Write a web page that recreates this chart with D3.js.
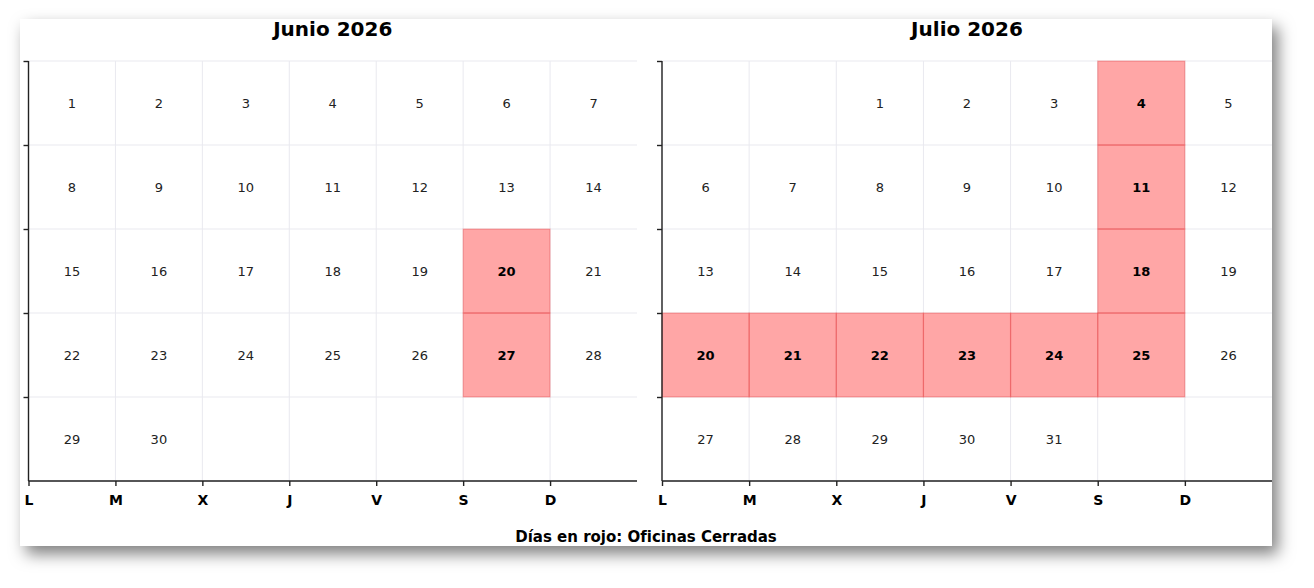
<html lang="es"><head>
<meta charset="utf-8">
<script src="https://d3js.org/d3.v7.min.js"></script>
<style>
  body { margin: 0; background: #fff; font-family: "DejaVu Sans", sans-serif; }
  .grid line { stroke: #e9e9ef; stroke-width: 1; }
  .day { font-size: 13px; fill: #222; }
  .day.closed { font-weight: bold; fill: #000; }
  .axis path, .axis line { stroke: #222; stroke-width: 1.4; }
  .axis text { font: bold 14px "DejaVu Sans", sans-serif; fill: #000; }
</style>
</head><body>
<div id="chart"></div>
<script>
// months shown, days closed in each, weekday labels
var months = [
    { title: "Junio 2026", year: 2026, month: 5 },
    { title: "Julio 2026", year: 2026, month: 6 }
];
var closedJune = [20, 27];
var closedJuly = [4, 11, 18, 20, 21, 22, 23, 24, 25];
var closedDays = [closedJune, closedJuly];
var weekdayLabels = ["L", "M", "X", "J", "V", "S", "D"];
var footerText = "Días en rojo: Oficinas Cerradas";

var W = 1314, H = 588;
var card = { x: 20, y: 19, w: 1252, h: 527 };
var panels = [{ left: 28.5, right: 637 }, { left: 662, right: 1272 }];
var yTop = 61, yBottom = 481;

var svg = d3.select("#chart").append("svg")
    .attr("width", W)
    .attr("height", H);

var defs = svg.append("defs");
var f = defs.append("filter").attr("id", "shadow")
    .attr("x", "-5%").attr("y", "-15%").attr("width", "112%").attr("height", "135%");
f.append("feDropShadow")
    .attr("dx", 6).attr("dy", 8)
    .attr("stdDeviation", 8)
    .attr("flood-color", "#000")
    .attr("flood-opacity", 0.5);

svg.append("rect")
    .attr("x", card.x).attr("y", card.y)
    .attr("width", card.w).attr("height", card.h)
    .attr("fill", "#fff")
    .attr("filter", "url(#shadow)");

months.forEach(function (m, i) {
    var p = panels[i];
    var x = d3.scaleLinear().domain([0, 7]).range([p.left, p.right]);
    var y = d3.scaleLinear().domain([0, 5]).range([yTop, yBottom]);
    var g = svg.append("g");

    // weekday offset: monday = 0
    var first = new Date(m.year, m.month, 1);
    var offset = (first.getDay() + 6) % 7;
    var days = d3.timeDays(first, new Date(m.year, m.month + 1, 1)).map(function (d) {
        return {
            day: d.getDate(),
            col: (d.getDay() + 6) % 7,
            row: Math.floor((d.getDate() - 1 + offset) / 7),
            closed: closedDays[i].indexOf(d.getDate()) >= 0
        };
    });

    var grid = g.append("g").attr("class", "grid");
    grid.selectAll(".v")
        .data(d3.range(0, 7))
        .join("line")
        .attr("class", "v")
        .attr("x1", d => x(d)).attr("x2", d => x(d))
        .attr("y1", yTop).attr("y2", yBottom);
    grid.selectAll(".h")
        .data(d3.range(0, 6))
        .join("line")
        .attr("class", "h")
        .attr("x1", p.left).attr("x2", p.right)
        .attr("y1", d => y(d)).attr("y2", d => y(d));

    g.append("g").selectAll("rect")
        .data(days.filter(d => d.closed))
        .join("rect")
        .attr("x", d => x(d.col))
        .attr("y", d => y(d.row))
        .attr("width", x(1) - x(0))
        .attr("height", y(1) - y(0))
        .attr("fill", "rgba(255,0,0,0.35)")
        .attr("stroke", "rgba(235,60,60,0.3)")
        .attr("stroke-width", 1.2);

    g.append("g").selectAll("text")
        .data(days)
        .join("text")
        .attr("class", d => d.closed ? "day closed" : "day")
        .attr("x", d => x(d.col + 0.5))
        .attr("y", d => y(d.row + 0.5))
        .attr("text-anchor", "middle")
        .attr("dominant-baseline", "central")
        .text(d => d.day);

    g.append("g")
        .attr("class", "axis")
        .attr("transform", `translate(0,${yBottom})`)
        .call(d3.axisBottom(x).tickValues(d3.range(0, 7))
            .tickFormat(d => weekdayLabels[d])
            .tickSize(5).tickPadding(9))
        .call(a => a.select(".domain").attr("d", `M${p.left},0H${p.right}`));

    g.append("g")
        .attr("class", "axis")
        .attr("transform", `translate(${p.left},0)`)
        .call(d3.axisLeft(y).tickValues(d3.range(0, 5))
            .tickFormat("").tickSize(5))
        .call(a => a.select(".domain").attr("d", `M0,${yTop}V${yBottom}`));

    g.append("text")
        .attr("x", (p.left + p.right) / 2)
        .attr("y", 36)
        .attr("text-anchor", "middle")
        .style("font", "bold 20px 'DejaVu Sans', sans-serif")
        .text(m.title);
});

svg.append("text")
    .attr("x", 646)
    .attr("y", 542)
    .attr("text-anchor", "middle")
    .style("font", "bold 15px 'DejaVu Sans', sans-serif")
    .text(footerText);
</script>
</body></html>
